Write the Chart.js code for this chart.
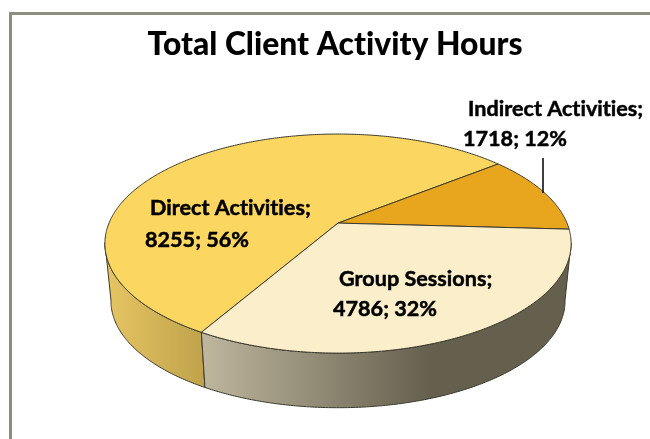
<!DOCTYPE html>
<html><head><meta charset="utf-8">
<script src="https://cdn.jsdelivr.net/npm/chart.js@4/dist/chart.umd.min.js"></script>
<style>
html,body{margin:0;padding:0;background:#fff;overflow:hidden;width:650px;height:439px}
#frame{position:absolute;left:9px;top:12px;width:700px;height:500px;border:3px solid #8e8e80;box-sizing:border-box}
#wrap{position:absolute;left:0;top:0;width:650px;height:439px}
</style></head><body>
<div id="frame"></div>
<div id="wrap"><canvas id="c" width="650" height="439"></canvas></div>
<script>
const categories = ['Direct Activities', 'Indirect Activities', 'Group Sessions'];
const hours = [8255, 1718, 4786];
const percents = [56, 12, 32];
const topColors = ['#FBD661', '#E8A61F', '#FBEFCB'];
const titleText = 'Total Client Activity Hours';

const K = 0.187, YS = 105.7 / 229, DEPTH = 58, BOTTOM_SCALE = 0.974, SHIFT_X = 3;
const labelSpots = [
  {lines: [[150, 208], [145, 240]]},
  {lines: [[468, 109], [463, 139]]},
  {lines: [[339, 279], [333, 309]]}
];

function project(el, ang, s, dy) {
  const u = Math.cos(ang), v = Math.sin(ang), w = 1 - K * v;
  return [el.x + SHIFT_X + s * el.outerRadius * u / w,
          el.y + dy + s * el.outerRadius * YS * v / w];
}
function trace(ctx, el, a0, a1, s, dy, move) {
  const n = Math.max(2, Math.ceil(Math.abs(a1 - a0) / 0.01));
  for (let i = 0; i <= n; i++) {
    const p = project(el, a0 + (a1 - a0) * i / n, s, dy);
    if (i === 0 && move) ctx.moveTo(p[0], p[1]); else ctx.lineTo(p[0], p[1]);
  }
}
function wall(ctx, el, a0, a1, fill) {
  ctx.beginPath();
  trace(ctx, el, a0, a1, 1, 0, true);
  trace(ctx, el, a1, a0, BOTTOM_SCALE, DEPTH, false);
  ctx.closePath();
  ctx.fillStyle = fill;
  ctx.fill();
  ctx.lineWidth = 1;
  ctx.strokeStyle = '#3c3a2e';
  ctx.stroke();
}
const pie3d = {
  id: 'pie3d',
  beforeDraw(chart) {
    chart.ctx.letterSpacing = '0.01px';
  },
  beforeDatasetsDraw(chart) {
    const ctx = chart.ctx, arcs = chart.getDatasetMeta(0).data;
    const norm = a => { const t = 2 * Math.PI; return ((a % t) + t) % t; };
    ctx.save();
    ctx.lineJoin = 'round';
    const visA = 0.18, visB = Math.PI - 0.18;
    const gDirect = ctx.createLinearGradient(105, 0, 205, 0);
    gDirect.addColorStop(0, '#E6C563'); gDirect.addColorStop(1, '#BFA24B');
    const gGroup = ctx.createLinearGradient(205, 0, 430, 0);
    gGroup.addColorStop(0, '#BDB59C'); gGroup.addColorStop(1, '#655F4E');
    const wallFills = [gDirect, '#8a6a18', gGroup];
    arcs.forEach((el, i) => {
      let a = norm(el.startAngle), b = a + (el.endAngle - el.startAngle);
      const lo = Math.max(a, visA), hi = Math.min(b, visB);
      if (hi > lo) wall(ctx, el, lo, hi, wallFills[i]);
      const lo2 = Math.max(a - 2 * Math.PI, visA), hi2 = Math.min(b - 2 * Math.PI, visB);
      if (hi2 > lo2) wall(ctx, el, lo2, hi2, wallFills[i]);
    });
    arcs.forEach((el, i) => {
      ctx.beginPath();
      ctx.moveTo(el.x + SHIFT_X, el.y);
      trace(ctx, el, el.startAngle, el.endAngle, 1, 0, false);
      ctx.closePath();
      ctx.fillStyle = topColors[i];
      ctx.fill();
      ctx.lineWidth = 1;
      ctx.strokeStyle = '#3c3a2e';
      ctx.stroke();
    });
    ctx.restore();
    return false;
  },
  afterDraw(chart) {
    const ctx = chart.ctx;
    ctx.save();
    ctx.strokeStyle = '#000';
    ctx.lineWidth = 1.5;
    ctx.beginPath();
    ctx.moveTo(543, 158); ctx.lineTo(543, 193);
    ctx.stroke();
    ctx.fillStyle = '#000';
    ctx.font = 'bold 21.6px Lato, sans-serif';
    ctx.textBaseline = 'alphabetic';
    ctx.lineWidth = 0.5;
    categories.forEach((c, i) => {
      const s = labelSpots[i].lines;
      [[c + ';', s[0]], [hours[i] + '; ' + percents[i] + '%', s[1]]].forEach(([t, p]) => {
        ctx.fillText(t, p[0], p[1] + 7);
        ctx.strokeText(t, p[0], p[1] + 7);
      });
    });
    ctx.restore();
  }
};
new Chart(document.getElementById('c'), {
  type: 'pie',
  data: { labels: categories, datasets: [{ data: hours, backgroundColor: topColors }] },
  options: {
    responsive: false,
    animation: false,
    radius: 229,
    rotation: 210,
    layout: { padding: { left: 20, right: 0, top: 0, bottom: 63 } },
    plugins: {
      legend: { display: false },
      tooltip: { enabled: false },
      title: { display: true, text: titleText, color: '#000',
        font: { family: 'Lato, sans-serif', size: 31.8, weight: '900' },
        padding: { top: 26, bottom: 6 } }
    }
  },
  plugins: [pie3d]
});
</script>
</body></html>
